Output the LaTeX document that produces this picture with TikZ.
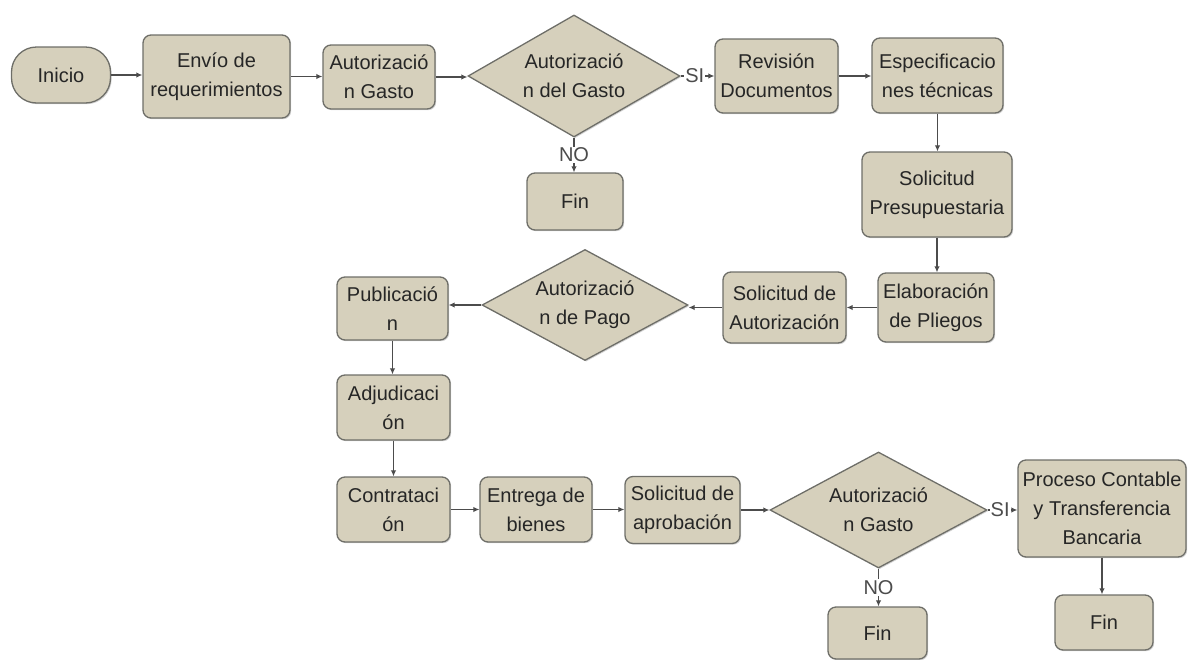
\documentclass[tikz,border=0pt]{standalone}
\usepackage{fontspec}
\setmainfont{Liberation Sans}
\usetikzlibrary{shapes.geometric,arrows.meta,shadows}
\definecolor{boxfill}{HTML}{D6D0BC}
\definecolor{boxedge}{HTML}{6E6E68}
\definecolor{linkcol}{HTML}{4C4C4C}
\definecolor{txtcol}{HTML}{262626}
\tikzset{
  base/.style={fill=boxfill, draw=boxedge, line width=1.3pt, text=txtcol,
    align=center, inner sep=2pt,
    font=\fontsize{20}{29}\selectfont,
    drop shadow={shadow xshift=1.2pt, shadow yshift=-1.2pt, opacity=0.35}},
  stepbox/.style={base, rectangle, rounded corners=8pt},
  pill/.style={base, rectangle, rounded corners=25pt},
  decision/.style={base, diamond, inner sep=0pt},
  link/.style={draw=linkcol, line width=1.2pt, -{Latex[length=6pt,width=5.5pt]}},
  lbl/.style={fill=white, inner sep=1pt, text=linkcol,
    font=\fontsize{20}{24}\selectfont},
}
\begin{document}
\begin{tikzpicture}[x=1pt,y=-1pt]
\useasboundingbox (0,0) rectangle (1189,659);

% first row
\node[pill, minimum width=99pt, minimum height=56pt] (ini) at (61,75) {Inicio};
\node[stepbox, minimum width=147pt, minimum height=83pt] (env) at (216.5,76.5) {Envío de\\requerimientos};
\node[stepbox, minimum width=112pt, minimum height=64pt] (aut) at (379,77) {Autorizació\\n Gasto};
\node[decision, shape aspect=1.74, minimum width=212pt, minimum height=122pt] (d1) at (574,76) {Autorizació\\n del Gasto};
\node[stepbox, minimum width=123pt, minimum height=74pt] (rev) at (776.5,76) {Revisión\\Documentos};
\node[stepbox, minimum width=131pt, minimum height=75pt] (esp) at (937.5,75.5) {Especificacio\\nes técnicas};
\node[stepbox, minimum width=96pt, minimum height=57pt] (fin1) at (575,201.5) {Fin};

% right column and second row
\node[stepbox, minimum width=150pt, minimum height=85pt] (sol) at (937,194.5) {Solicitud\\Presupuestaria};
\node[stepbox, minimum width=116pt, minimum height=69pt] (ela) at (936,307.5) {Elaboración\\de Pliegos};
\node[stepbox, minimum width=123pt, minimum height=71pt] (sau) at (784.5,307.5) {Solicitud de\\Autorización};
\node[decision, shape aspect=1.86, minimum width=206pt, minimum height=111pt] (d2) at (585,305) {Autorizació\\n de Pago};
\node[stepbox, minimum width=111pt, minimum height=63pt] (pub) at (392.5,308.5) {Publicació\\n};
\node[stepbox, minimum width=113pt, minimum height=65pt] (adj) at (393.5,407.5) {Adjudicaci\\ón};

% last row
\node[stepbox, minimum width=113pt, minimum height=65pt] (con) at (393.5,509.5) {Contrataci\\ón};
\node[stepbox, minimum width=112pt, minimum height=65pt] (ent) at (536,509.5) {Entrega de\\bienes};
\node[stepbox, minimum width=115pt, minimum height=67pt] (sap) at (682.5,510) {Solicitud de\\aprobación};
\node[decision, shape aspect=1.87, minimum width=217pt, minimum height=116pt] (d3) at (878.5,510) {Autorizació\\n Gasto};
\node[stepbox, minimum width=168pt, minimum height=97pt] (pro) at (1102,508.5) {Proceso Contable\\y Transferencia\\Bancaria};
\node[stepbox, minimum width=99pt, minimum height=52pt] (fin2) at (877.5,633) {Fin};
\node[stepbox, minimum width=98pt, minimum height=55pt] (fin3) at (1104,622.5) {Fin};

% connectors
\draw[link] (ini.east) -- (env.west |- ini.east);
\draw[link] (env.east) -- (aut.west |- env.east);
\draw[link] (aut.east) -- (d1.west |- aut.east);
\draw[link] (d1.east) -- node[lbl, pos=0.42] {SI} (rev.west |- d1.east);
\draw[link] (d1.south) -- node[lbl] {NO} (fin1.north -| d1.south);
\draw[link] (rev.east) -- (esp.west |- rev.east);
\draw[link] (esp.south) -- (sol.north -| esp.south);
\draw[link] (sol.south) -- (ela.north -| sol.south);
\draw[link] (ela.west) -- (sau.east |- ela.west);
\draw[link] (sau.west) -- (d2.east |- sau.west);
\draw[link] (d2.west) -- (pub.east |- d2.west);
\draw[link] (pub.south) -- (adj.north -| pub.south);
\draw[link] (adj.south) -- (con.north -| adj.south);
\draw[link] (con.east) -- (ent.west |- con.east);
\draw[link] (ent.east) -- (sap.west |- ent.east);
\draw[link] (sap.east) -- (d3.west |- sap.east);
\draw[link] (d3.east) -- node[lbl, pos=0.42] {SI} (pro.west |- d3.east);
\draw[link] (d3.south) -- node[lbl] {NO} (fin2.north -| d3.south);
\draw[link] (pro.south) -- (fin3.north -| pro.south);
\end{tikzpicture}
\end{document}
